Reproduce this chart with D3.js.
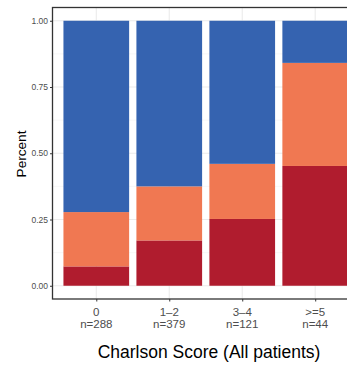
<!DOCTYPE html>
<html>
<head>
<meta charset="utf-8">
<script src="https://cdn.jsdelivr.net/npm/d3@7"></script>
<style>
  body { margin: 0; background: #fff; }
  text { font-family: "Liberation Sans", Arial, sans-serif; }
</style>
</head>
<body>
<script>
const scores = ['0', '1\u20122', '3\u20124', '>=5']
const counts = ['n=288', 'n=379', 'n=121', 'n=44']
// share of patients in each group, bottom to top
const redShare = [0.073, 0.171, 0.252, 0.452]
const orangeShare = [0.205, 0.204, 0.208, 0.389]
const blueShare = [0.722, 0.625, 0.540, 0.159]
const yTicks = [0, 0.25, 0.5, 0.75, 1]
const yMinor = [0.125, 0.375, 0.625, 0.875]

const w = 347
const h = 367
const padLeft = 52.5
const padRight = 359
const padTop = 7.5
const padBottom = 299

const svg = d3.select('body')
  .append('svg')
  .attr('width', w)
  .attr('height', h)

// ggplot-like discrete axis: 0.6 unit expansion, bar width 0.9
const xScale = d3.scaleLinear()
  .domain([-0.6, scores.length - 0.4])
  .range([padLeft, padRight])

const yScale = d3.scaleLinear()
  .domain([-0.05, 1.05])
  .range([padBottom, padTop])

const rows = scores.map((s, i) => ({ i: i, red: redShare[i], orange: orangeShare[i], blue: blueShare[i] }))
const stack = d3.stack().keys(['red', 'orange', 'blue'])(rows)
const colors = { red: '#B01C2E', orange: '#F07852', blue: '#3563B0' }

const panel = svg.append('g')

panel.append('rect')
  .attr('x', padLeft).attr('y', padTop)
  .attr('width', padRight - padLeft).attr('height', padBottom - padTop)
  .attr('fill', '#fff')

panel.selectAll('.minor')
  .data(yMinor)
  .enter()
  .append('line')
  .attr('x1', padLeft).attr('x2', padRight)
  .attr('y1', d => yScale(d)).attr('y2', d => yScale(d))
  .attr('stroke', '#F2F2F2').attr('stroke-width', 0.6)

panel.selectAll('.major')
  .data(yTicks)
  .enter()
  .append('line')
  .attr('x1', padLeft).attr('x2', padRight)
  .attr('y1', d => yScale(d)).attr('y2', d => yScale(d))
  .attr('stroke', '#EBEBEB').attr('stroke-width', 1.1)

panel.selectAll('.vmajor')
  .data(scores)
  .enter()
  .append('line')
  .attr('x1', (d, i) => xScale(i)).attr('x2', (d, i) => xScale(i))
  .attr('y1', padTop).attr('y2', padBottom)
  .attr('stroke', '#EBEBEB').attr('stroke-width', 1.1)

stack.forEach(layer => {
  panel.selectAll('.bar-' + layer.key)
    .data(layer)
    .enter()
    .append('rect')
    .attr('x', d => xScale(d.data.i - 0.45))
    .attr('width', d => xScale(0.9) - xScale(0))
    .attr('y', d => yScale(d[1]))
    .attr('height', d => yScale(d[0]) - yScale(d[1]))
    .attr('fill', colors[layer.key])
})

panel.append('rect')
  .attr('x', padLeft).attr('y', padTop)
  .attr('width', padRight - padLeft).attr('height', padBottom - padTop)
  .attr('fill', 'none')
  .attr('stroke', '#333').attr('stroke-width', 1.3)

// y axis
const yAxis = d3.axisLeft(yScale)
  .tickValues(yTicks)
  .tickFormat(d3.format('.2f'))
  .tickSize(2.5)
  .tickPadding(2)

svg.append('g')
  .attr('transform', 'translate(' + padLeft + ',0)')
  .call(yAxis)
  .call(g => g.select('.domain').remove())
  .call(g => g.selectAll('line').attr('stroke', '#333'))
  .call(g => g.selectAll('text')
    .attr('fill', '#4D4D4D')
    .style('font-size', '8.5px')
    .style('font-family', '"Liberation Sans", Arial, sans-serif'))

// x axis
const xAxis = d3.axisBottom(xScale)
  .tickValues(d3.range(scores.length))
  .tickFormat('')
  .tickSize(2.5)

svg.append('g')
  .attr('transform', 'translate(0,' + padBottom + ')')
  .call(xAxis)
  .call(g => g.select('.domain').remove())
  .call(g => g.selectAll('line').attr('stroke', '#333'))

scores.forEach((s, i) => {
  const t = svg.append('text')
    .attr('x', xScale(i))
    .attr('y', 316)
    .attr('text-anchor', 'middle')
    .attr('fill', '#4D4D4D')
    .style('font-size', '11.5px')
  t.append('tspan').attr('x', xScale(i)).text(s)
  t.append('tspan').attr('x', xScale(i)).attr('dy', 12.3).text(counts[i])
})

svg.append('text')
  .attr('x', 209)
  .attr('y', 358)
  .attr('text-anchor', 'middle')
  .attr('fill', '#000')
  .style('font-size', '17.5px')
  .text('Charlson Score (All patients)')

svg.append('text')
  .attr('transform', 'translate(26,154) rotate(-90)')
  .attr('text-anchor', 'middle')
  .attr('fill', '#000')
  .style('font-size', '13.6px')
  .text('Percent')
</script>
</body>
</html>
